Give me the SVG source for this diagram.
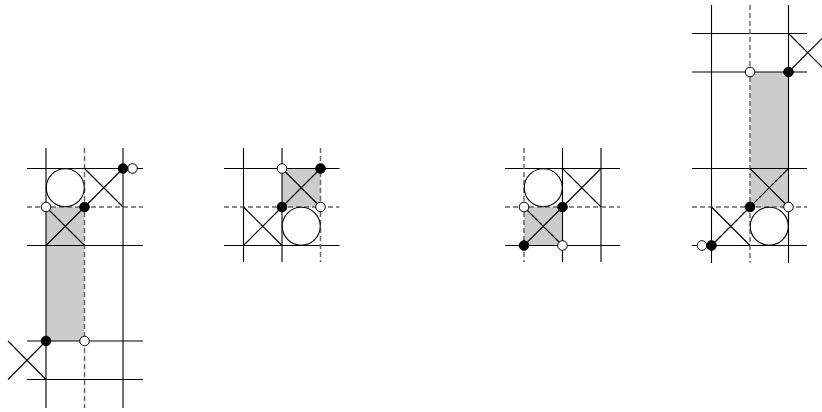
<svg xmlns="http://www.w3.org/2000/svg" width="822" height="412" viewBox="0 0 822 412">
<style>
.ln{stroke:#000;stroke-width:1.1;fill:none}
.dl{stroke:#666;stroke-width:1.5;stroke-dasharray:5,3;fill:none}
.gf{fill:#cccccc;stroke:none}
.cr{fill:#fff;stroke:#000;stroke-width:1.1}
.bd{fill:#000;stroke:#000;stroke-width:1}
.wd{fill:#fff;stroke:#000;stroke-width:1}
</style>
<rect width="822" height="412" fill="#fff"/>
<g id="fig1">
<rect class="gf" x="46" y="207" width="38.5" height="134"/>
<path class="ln" d="M27 168.5H143M27 245.5H143M27 341H143M27 379.5H143M46 148V408M123 148V408"/>
<path class="dl" d="M27 207H143M84.5 148V408"/>
<path class="ln" d="M84.5 168.5L123 207M84.5 207L123 168.5M46 207L84.5 245.5M46 245.5L84.5 207M8 341L46 379.5M8 379.5L46 341"/>
<circle class="cr" cx="65.25" cy="187.75" r="19"/>
<circle class="wd" cx="132.5" cy="168.5" r="4.8"/>
<circle class="bd" cx="123" cy="168.5" r="4.8"/>
<circle class="wd" cx="46" cy="207" r="4.8"/>
<circle class="bd" cx="84.5" cy="207" r="4.8"/>
<circle class="bd" cx="46" cy="341" r="4.8"/>
<circle class="wd" cx="84.5" cy="341" r="4.8"/>
</g>
<g id="fig2">
<rect class="gf" x="282" y="168.5" width="38.5" height="38.5"/>
<path class="ln" d="M224 168.5H339.5M224 245.5H339.5M243.5 148V262M282 148V262"/>
<path class="dl" d="M224 207H339.5M320.5 148V262"/>
<path class="ln" d="M282 168.5L320.5 207M282 207L320.5 168.5M243.5 207L282 245.5M243.5 245.5L282 207"/>
<circle class="cr" cx="301.25" cy="226.25" r="19"/>
<circle class="wd" cx="282" cy="168.5" r="4.8"/>
<circle class="bd" cx="320.5" cy="168.5" r="4.8"/>
<circle class="bd" cx="282" cy="207" r="4.8"/>
<circle class="wd" cx="320.5" cy="207" r="4.8"/>
</g>
<g id="fig3">
<rect class="gf" x="524" y="207" width="38.5" height="38.5"/>
<path class="ln" d="M505 168.5H620M505 245.5H620M562.5 148V262M601 148V262"/>
<path class="dl" d="M505 207H620M524 148V262"/>
<path class="ln" d="M562.5 168.5L601 207M562.5 207L601 168.5M524 207L562.5 245.5M524 245.5L562.5 207"/>
<circle class="cr" cx="543.25" cy="187.75" r="19"/>
<circle class="wd" cx="524" cy="207" r="4.8"/>
<circle class="bd" cx="562.5" cy="207" r="4.8"/>
<circle class="bd" cx="524" cy="245.5" r="4.8"/>
<circle class="wd" cx="562.5" cy="245.5" r="4.8"/>
</g>
<g id="fig4">
<rect class="gf" x="750" y="72" width="38.5" height="135"/>
<path class="ln" d="M692 33.5H807M692 72H807M692 168.5H807M692 245.5H807M711.5 5V263M788.5 5V263"/>
<path class="dl" d="M692 207H807M750 5V263"/>
<path class="ln" d="M788.5 33.5L827 72M788.5 72L827 33.5M750 168.5L788.5 207M750 207L788.5 168.5M711.5 207L750 245.5M711.5 245.5L750 207"/>
<circle class="cr" cx="769.25" cy="226.25" r="19"/>
<circle class="wd" cx="750" cy="72" r="4.8"/>
<circle class="bd" cx="788.5" cy="72" r="4.8"/>
<circle class="bd" cx="750" cy="207" r="4.8"/>
<circle class="wd" cx="788.5" cy="207" r="4.8"/>
<circle class="wd" cx="702" cy="245.5" r="4.8"/>
<circle class="bd" cx="711.5" cy="245.5" r="4.8"/>
</g>
</svg>
